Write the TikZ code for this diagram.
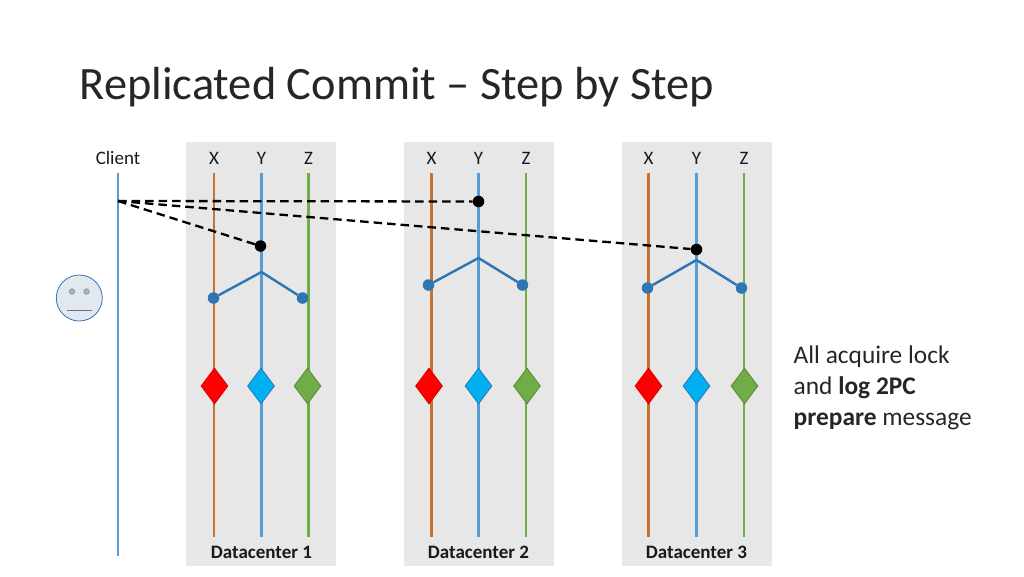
\documentclass[tikz,border=0pt]{standalone}
\usepackage{fontspec}
\setmainfont{Carlito}
\usetikzlibrary{shapes.geometric}
\definecolor{panel}{HTML}{E7E7E7}
\definecolor{cOrange}{HTML}{C9702F}
\definecolor{cBlue}{HTML}{5B9BD5}
\definecolor{cGreen}{HTML}{70AD47}
\definecolor{cDot}{HTML}{2E75B6}
\definecolor{cFace}{HTML}{E3E8EE}
\definecolor{cSky}{HTML}{00B0F0}
\tikzset{
  x=1pt,y=-1pt,
  panelbox/.style={fill=panel,draw=none,minimum width=150pt,minimum height=424pt,inner sep=0pt,anchor=north west},
  lab/.style={font=\fontsize{19}{20}\selectfont,inner sep=0pt,text=black!90},
  dclab/.style={font=\fontsize{19}{20}\selectfont\bfseries,inner sep=0pt,text=black!90},
  lifeO/.style={draw=cOrange,line width=2.6pt},
  lifeB/.style={draw=cBlue,line width=2.6pt},
  lifeG/.style={draw=cGreen,line width=2.6pt},
  dia/.style={diamond,aspect=0.76,minimum width=27pt,minimum height=36pt,inner sep=0pt,line width=0.8pt},
  diaR/.style={dia,fill=red,draw=red!85!black},
  diaB/.style={dia,fill=cSky,draw=cDot},
  diaG/.style={dia,fill=cGreen,draw=cGreen!80!black},
  bdot/.style={circle,fill=cDot,minimum size=11.5pt,inner sep=0pt},
  kdot/.style={circle,fill=black,minimum size=11.5pt,inner sep=0pt},
  branch/.style={draw=cDot,line width=2.4pt},
  msg/.style={draw=black,line width=2.3pt,dash pattern=on 8.5pt off 5pt},
}
\newcommand{\dcolumn}[6]{%
  \node[panelbox] (panel#1) at (#2,142) {};
  \node[lab] (x#1) at (#3,158) {X};
  \node[lab] (y#1) at (#4,158) {Y};
  \node[lab] (z#1) at (#5,158) {Z};
  \coordinate (xt#1) at (#3,173); \coordinate (xb#1) at (#3,537);
  \coordinate (yt#1) at (#4,173); \coordinate (yb#1) at (#4,537);
  \coordinate (zt#1) at (#5,173); \coordinate (zb#1) at (#5,537);
  \draw[lifeO] (xt#1) -- (xb#1);
  \draw[lifeB] (yt#1) -- (yb#1);
  \draw[lifeG] (zt#1) -- (zb#1);
  \node[dclab] (dc#1) at (#4,552) {#6};
}
\begin{document}
\begin{tikzpicture}
\useasboundingbox (0,0) rectangle (1024,576);
\node[font=\fontsize{46.4}{50}\selectfont,anchor=base west,inner sep=0pt,text=black!85] (title) at (79.5,99) {Replicated Commit – Step by Step};

\dcolumn{1}{186}{214}{261.5}{308.5}{Datacenter 1}
\dcolumn{2}{404}{431.5}{478.5}{526}{Datacenter 2}
\dcolumn{3}{622}{648.5}{696.5}{744}{Datacenter 3}

% client
\node[lab] (client) at (118,158) {Client};
\coordinate (ct) at (118,173);
\coordinate (cb) at (118,556);
\coordinate (cm) at (118,201);
\draw[lifeB] (ct) -- (cb);

% diamonds
\node[diaR] (d1x) at (214.5,386) {};
\node[diaB] (d1y) at (261,386) {};
\node[diaG] (d1z) at (307.5,386) {};
\node[diaR] (d2x) at (429,386) {};
\node[diaB] (d2y) at (478.5,386) {};
\node[diaG] (d2z) at (527,386) {};
\node[diaR] (d3x) at (648.5,386) {};
\node[diaB] (d3y) at (696.5,386) {};
\node[diaG] (d3z) at (744.5,386) {};

% branches
\coordinate (a1) at (261.5,272);
\node[bdot] (l1) at (213.5,298) {};
\node[bdot] (r1) at (302.5,298) {};
\draw[branch] (l1) -- (a1) -- (r1);
\coordinate (a2) at (478.5,258);
\node[bdot] (l2) at (428.5,285) {};
\node[bdot] (r2) at (522.5,285) {};
\draw[branch] (l2) -- (a2) -- (r2);
\coordinate (a3) at (696.5,260);
\node[bdot] (l3) at (647.5,288) {};
\node[bdot] (r3) at (741.5,288) {};
\draw[branch] (l3) -- (a3) -- (r3);

% messages
\node[kdot] (k1) at (260.5,246) {};
\node[kdot] (k2) at (478.5,201.5) {};
\node[kdot] (k3) at (696.5,249.5) {};
\draw[msg] (cm) -- (k1);
\draw[msg] (cm) -- (k2);
\draw[msg] (cm) -- (k3);

% face
\node[circle,draw=cDot,fill=cFace,minimum size=46pt,inner sep=0pt,line width=0.8pt] (face) at (79.3,298) {};
\node[circle,draw=cBlue!70!gray,fill=gray!60,minimum size=5.5pt,inner sep=0pt,line width=0.6pt] (eyeL) at (72,291.5) {};
\node[circle,draw=cBlue!70!gray,fill=gray!60,minimum size=5.5pt,inner sep=0pt,line width=0.6pt] (eyeR) at (86.5,291.5) {};
\coordinate (mL) at (67,310); \coordinate (mR) at (92,310);
\draw[draw=cDot!60!gray,line width=0.8pt] (mL) -- (mR);

% note
\node[font=\fontsize{25.4}{31}\selectfont,align=left,anchor=north west,inner sep=0pt,text=black!85] (note) at (793.5,346) {All acquire lock\\and \textbf{log 2PC}\\\textbf{prepare} message};
\end{tikzpicture}
\end{document}
